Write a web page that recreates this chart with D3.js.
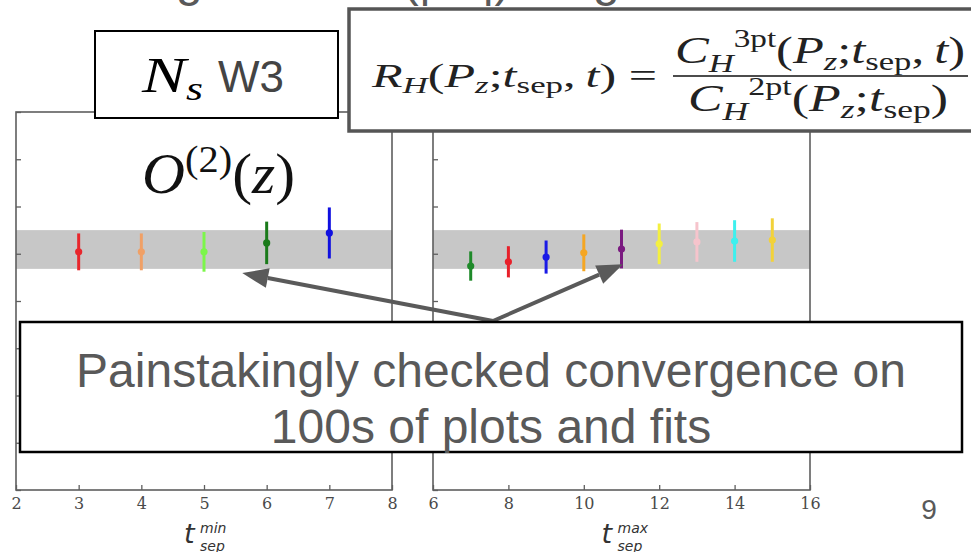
<!DOCTYPE html>
<html>
<head>
<meta charset="utf-8">
<script src="https://cdn.jsdelivr.net/npm/d3@7/dist/d3.min.js"></script>
<style>
  html, body { margin: 0; padding: 0; background: #fff; }
  svg { display: block; }
</style>
</head>
<body>
<svg id="chart" width="971" height="552"></svg>
<script>
// ---- data -------------------------------------------------------------
// Left panel: fit results against the minimum source-sink separation
const minTsep    = [3, 4, 5, 6, 7];
const minValues  = [1.104, 1.104, 1.104, 1.123, 1.144];
const minErrors  = [0.039, 0.039, 0.042, 0.045, 0.054];
const minColors  = ["#e8262c", "#f0a066", "#7cf64a", "#1a7a1a", "#1010e0"];

// Right panel: fit results against the maximum source-sink separation
const maxTsep    = [7, 8, 9, 10, 11, 12, 13, 14, 15];
const maxValues  = [1.074, 1.083, 1.093, 1.102, 1.110, 1.121, 1.125, 1.127, 1.129];
const maxErrors  = [0.031, 0.033, 0.035, 0.039, 0.041, 0.043, 0.042, 0.044, 0.046];
const maxColors  = ["#1f8a2a", "#e8202a", "#1a1ae6", "#f5a623", "#7a1a80",
                    "#f4f040", "#f6c4cc", "#3ef0ee", "#f2d23a"];

// Final extracted value (grey band)
const bandLow  = 1.068;
const bandHigh = 1.150;

// Axis ticks
const minTicks = [2, 3, 4, 5, 6, 7, 8];
const maxTicks = [6, 8, 10, 12, 14, 16];
const yTicks   = [0.6, 0.7, 0.8, 0.9, 1.0, 1.1, 1.2, 1.3, 1.4];

// ---- layout -----------------------------------------------------------
const svg = d3.select("#chart");
const yTop = 112, yBottom = 490;
const y = d3.scaleLinear().domain([0.6, 1.4]).range([yBottom, yTop]);
const xMin = d3.scaleLinear().domain([2, 8]).range([16, 392]);
const xMax = d3.scaleLinear().domain([6, 16]).range([433, 810]);

const frameColor = "#5e5e5e";
const serif = "'Liberation Serif', 'Times New Roman', serif";
const sans  = "'Liberation Sans', Arial, sans-serif";

// Slide heading running off the top edge
svg.append("text")
  .attr("x", 72).attr("y", -4)
  .attr("font-family", sans).attr("font-size", 48).attr("fill", "#595959")
  .text("Fitting the ratio (|P\u2082|) for ground state");

function panel(x, tsep, values, errors, colors, ticks, labelSup, id) {
  const g = svg.append("g");
  const [x0, x1] = x.range();

  g.append("clipPath").attr("id", id)
    .append("rect").attr("x", x0).attr("y", yTop)
    .attr("width", x1 - x0).attr("height", yBottom - yTop);

  // band of the final value
  g.append("rect")
    .attr("clip-path", `url(#${id})`)
    .attr("x", x0).attr("width", x1 - x0)
    .attr("y", y(bandHigh)).attr("height", y(bandLow) - y(bandHigh))
    .attr("fill", "#c7c7c7");

  // error bars with central values
  const pts = tsep.map((t, i) => ({ t, v: values[i], e: errors[i], c: colors[i] }));
  g.selectAll("line.err").data(pts).join("line")
    .attr("class", "err")
    .attr("x1", d => x(d.t)).attr("x2", d => x(d.t))
    .attr("y1", d => y(d.v - d.e)).attr("y2", d => y(d.v + d.e))
    .attr("stroke", d => d.c).attr("stroke-width", 3);
  g.selectAll("circle.pt").data(pts).join("circle")
    .attr("class", "pt")
    .attr("cx", d => x(d.t)).attr("cy", d => y(d.v)).attr("r", 3.6)
    .attr("fill", d => d.c);

  // frame
  g.append("rect")
    .attr("x", x0).attr("y", yTop).attr("width", x1 - x0).attr("height", yBottom - yTop)
    .attr("fill", "none").attr("stroke", frameColor).attr("stroke-width", 1.6);

  // bottom axis, ticks pointing inward
  const xa = g.append("g").attr("transform", `translate(0,${yBottom})`)
    .call(d3.axisBottom(x).tickValues(ticks).tickFormat(d3.format("d"))
      .tickSizeInner(-5).tickSizeOuter(0).tickPadding(8));
  xa.select(".domain").remove();
  xa.selectAll(".tick line").attr("stroke", frameColor).attr("stroke-width", 1.3);
  xa.selectAll(".tick text")
    .attr("font-family", "'DejaVu Serif', serif").attr("font-size", 16).attr("fill", "#4a4a4a");

  // left axis, ticks pointing inward, no labels
  const ya = g.append("g").attr("transform", `translate(${x0},0)`)
    .call(d3.axisLeft(y).tickValues(yTicks).tickSizeInner(-5).tickSizeOuter(0).tickFormat(""));
  ya.select(".domain").remove();
  ya.selectAll(".tick line").attr("stroke", frameColor).attr("stroke-width", 1.3);

  // axis title t_sep^{min|max}
  const cx = (x0 + x1) / 2;
  const lab = g.append("g").attr("fill", "#333").attr("font-family", "'DejaVu Sans', sans-serif")
    .attr("font-style", "italic");
  lab.append("text").attr("x", cx - 20).attr("y", 543).attr("font-size", 27).text("t");
  lab.append("text").attr("x", cx - 4).attr("y", 533).attr("font-size", 14).text(labelSup);
  lab.append("text").attr("x", cx - 4).attr("y", 551).attr("font-size", 14).text("sep");
  return g;
}

panel(xMin, minTsep, minValues, minErrors, minColors, minTicks, "min", "clipMin");
panel(xMax, maxTsep, maxValues, maxErrors, maxColors, maxTicks, "max", "clipMax");

// Operator label inside the left panel
const op = svg.append("text").attr("x", 142).attr("y", 193)
  .attr("font-family", serif).attr("font-size", 56).attr("fill", "#111")
  .attr("textLength", 153).attr("lengthAdjust", "spacingAndGlyphs");
op.append("tspan").attr("font-style", "italic").text("O");
op.append("tspan").attr("font-size", 38).attr("dy", -21).text("(2)");
op.append("tspan").attr("dy", 21).text("(");
op.append("tspan").attr("font-style", "italic").text("z");
op.append("tspan").text(")");

// Ensemble label box
svg.append("rect").attr("x", 95).attr("y", 31).attr("width", 243).attr("height", 87)
  .attr("fill", "#fff").attr("stroke", "#000").attr("stroke-width", 2);
const ens = svg.append("text").attr("x", 142).attr("y", 92)
  .attr("font-family", serif).attr("font-style", "italic").attr("fill", "#000")
  .attr("textLength", 61).attr("lengthAdjust", "spacingAndGlyphs");
ens.append("tspan").attr("font-size", 50).text("N");
ens.append("tspan").attr("font-size", 33).attr("dy", 8).text("s");
svg.append("text").attr("x", 218).attr("y", 92)
  .attr("font-family", sans).attr("font-size", 44).attr("fill", "#444").text("W3");

// Ratio definition box
svg.append("rect").attr("x", 349).attr("y", 9).attr("width", 640).attr("height", 122)
  .attr("fill", "#fff").attr("stroke", "#555").attr("stroke-width", 3.5);

const lhs = svg.append("text").attr("x", 372).attr("y", 87)
  .attr("font-family", serif).attr("font-size", 33).attr("fill", "#222")
  .attr("textLength", 285).attr("lengthAdjust", "spacingAndGlyphs");
lhs.append("tspan").attr("font-style", "italic").text("R");
lhs.append("tspan").attr("font-style", "italic").attr("font-size", 23).attr("dy", 6).text("H");
lhs.append("tspan").attr("dy", -6).text("(");
lhs.append("tspan").attr("font-style", "italic").text("P");
lhs.append("tspan").attr("font-style", "italic").attr("font-size", 23).attr("dy", 6).text("z");
lhs.append("tspan").attr("dy", -6).text(";");
lhs.append("tspan").attr("font-style", "italic").text("t");
lhs.append("tspan").attr("font-size", 23).attr("dy", 6).text("sep");
lhs.append("tspan").attr("dy", -6).text(",\u2009");
lhs.append("tspan").attr("font-style", "italic").text("t");
lhs.append("tspan").text(") =");

function corr(x0, yBase, width, sup, withT) {
  const t = svg.append("text").attr("x", x0).attr("y", yBase)
    .attr("font-family", serif).attr("font-size", 38).attr("fill", "#222")
    .attr("textLength", width).attr("lengthAdjust", "spacingAndGlyphs");
  t.append("tspan").attr("font-style", "italic").text("C");
  t.append("tspan").attr("font-style", "italic").attr("font-size", 26).attr("dy", 9).text("H");
  t.append("tspan").attr("font-size", 25).attr("dy", -25).text(sup);
  t.append("tspan").attr("dy", 16).text("(");
  t.append("tspan").attr("font-style", "italic").text("P");
  t.append("tspan").attr("font-style", "italic").attr("font-size", 26).attr("dy", 7).text("z");
  t.append("tspan").attr("dy", -7).text(";");
  t.append("tspan").attr("font-style", "italic").text("t");
  t.append("tspan").attr("font-size", 26).attr("dy", 7).text("sep");
  if (withT) {
    t.append("tspan").attr("dy", -7).text(",\u2009");
    t.append("tspan").attr("font-style", "italic").text("t");
    t.append("tspan").text(")");
  } else {
    t.append("tspan").attr("dy", -7).text(")");
  }
}
corr(675, 63, 290, "3pt", true);
corr(688, 111, 260, "2pt", false);
svg.append("line").attr("x1", 673).attr("x2", 968).attr("y1", 76).attr("y2", 76)
  .attr("stroke", "#111").attr("stroke-width", 1.6);

// Arrows from the note to the plateau regions
const arrowColor = "#5a5a5a";
const arrowStart = [493, 321];
const targets = [
  [xMin(5.61), y(1.059)],
  [xMax(11.04), y(1.078)]
];
targets.forEach(([tx, ty]) => {
  const [sx, sy] = arrowStart;
  const ang = Math.atan2(ty - sy, tx - sx);
  const headLen = 26, headHalf = 10;
  const bx = tx - headLen * Math.cos(ang), by = ty - headLen * Math.sin(ang);
  svg.append("line").attr("x1", sx).attr("y1", sy).attr("x2", bx).attr("y2", by)
    .attr("stroke", arrowColor).attr("stroke-width", 4);
  const px = -Math.sin(ang) * headHalf, py = Math.cos(ang) * headHalf;
  svg.append("path")
    .attr("d", `M${tx},${ty} L${bx + px},${by + py} L${bx - px},${by - py} Z`)
    .attr("fill", arrowColor);
});

// Note box
svg.append("rect").attr("x", 20).attr("y", 322).attr("width", 942).attr("height", 130)
  .attr("fill", "#fff").attr("stroke", "#000").attr("stroke-width", 2.5);
const note = svg.append("g").attr("font-family", sans).attr("font-size", 48)
  .attr("fill", "#595959").attr("text-anchor", "middle");
note.append("text").attr("x", 491).attr("y", 387).text("Painstakingly checked convergence on");
note.append("text").attr("x", 491).attr("y", 443).text("100s of plots and fits");

// Slide number
svg.append("text").attr("x", 929).attr("y", 519).attr("text-anchor", "middle")
  .attr("font-family", sans).attr("font-size", 28).attr("fill", "#595959").text("9");
</script>
</body>
</html>
